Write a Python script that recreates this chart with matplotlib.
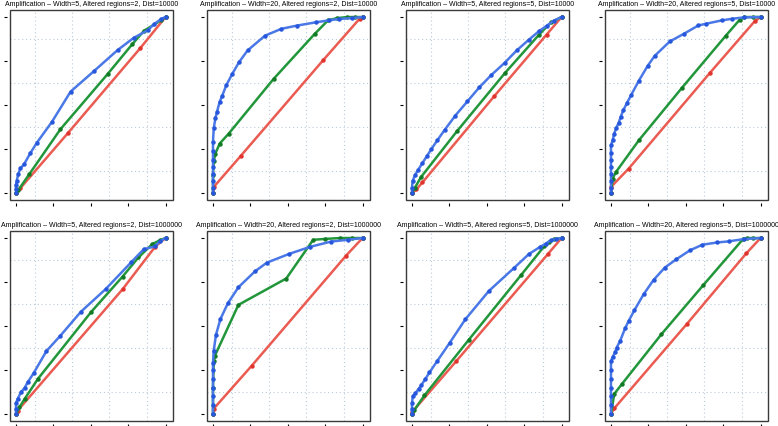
import matplotlib
matplotlib.use("Agg")
import matplotlib.pyplot as plt
from matplotlib.patches import Rectangle

plt.rcParams["font.family"] = ["Liberation Sans", "DejaVu Sans"]

titles = [
    "Amplification \u2013 Width=5, Altered regions=2, Dist=10000",
    "Amplification \u2013 Width=20, Altered regions=2, Dist=10000",
    "Amplification \u2013 Width=5, Altered regions=5, Dist=10000",
    "Amplification \u2013 Width=20, Altered regions=5, Dist=10000",
    "Amplification \u2013 Width=5, Altered regions=2, Dist=1000000",
    "Amplification \u2013 Width=20, Altered regions=2, Dist=1000000",
    "Amplification \u2013 Width=5, Altered regions=5, Dist=1000000",
    "Amplification \u2013 Width=20, Altered regions=5, Dist=1000000",
]

# red curves (fpr, tpr)
red_x = [
    [0, 0.03, 0.35, 0.83, 1],
    [0, 0.005, 0.186, 0.735, 0.98, 1],
    [0, 0.03, 0.07, 0.55, 0.9, 1],
    [0, 0.0, 0.119, 0.663, 0.96, 1],
    [0, 0.011, 0.713, 0.93, 1],
    [0, 0.005, 0.26, 0.89, 1],
    [0, 0.0, 0.297, 0.91, 1],
    [0, 0.022, 0.51, 0.906, 1],
]
red_y = [
    [0, 0.028, 0.343, 0.822, 1],
    [0, 0.034, 0.211, 0.753, 0.99, 1],
    [0, 0.02, 0.06, 0.55, 0.9, 1],
    [0, 0.034, 0.139, 0.684, 0.975, 1],
    [0, 0.019, 0.709, 0.95, 1],
    [0, 0.03, 0.275, 0.9, 1],
    [0, 0.01, 0.301, 0.91, 1],
    [0, 0.032, 0.514, 0.914, 1],
]

# green curves
green_x = [
    [0, 0.016, 0.09, 0.297, 0.613, 0.777, 0.856, 0.973, 1],
    [0, 0.0, 0.005, 0.016, 0.045, 0.106, 0.405, 0.679, 0.769, 0.83, 0.898, 0.95, 1],
    [0, 0.02, 0.06, 0.3, 0.62, 0.85, 0.93, 1],
    [0, 0.011, 0.034, 0.187, 0.472, 0.769, 0.861, 0.892, 0.95, 1],
    [0, 0.023, 0.057, 0.147, 0.502, 0.713, 0.819, 0.912, 0.962, 1],
    [0, 0.0, 0.005, 0.012, 0.17, 0.49, 0.67, 0.75, 0.85, 0.93, 1],
    [0, 0.016, 0.083, 0.381, 0.73, 0.883, 0.917, 0.95, 1],
    [0, 0.022, 0.074, 0.337, 0.618, 0.883, 0.91, 0.95, 1],
]
green_y = [
    [0, 0.017, 0.108, 0.362, 0.676, 0.845, 0.922, 0.983, 1],
    [0, 0.1, 0.18, 0.224, 0.281, 0.338, 0.648, 0.903, 0.981, 0.994, 1.0, 1.0, 1],
    [0, 0.03, 0.09, 0.35, 0.68, 0.9, 0.97, 1],
    [0, 0.082, 0.12, 0.3, 0.595, 0.895, 0.985, 1.0, 1.0, 1],
    [0, 0.038, 0.084, 0.2, 0.579, 0.781, 0.89, 0.966, 0.987, 1],
    [0, 0.15, 0.3, 0.33, 0.62, 0.77, 0.99, 0.995, 1.0, 1.0, 1],
    [0, 0.023, 0.105, 0.423, 0.79, 0.952, 0.977, 0.994, 1],
    [0, 0.114, 0.171, 0.453, 0.733, 0.994, 1.0, 1.0, 1],
]

# blue curves
blue_x = [
    [0, 0.0, 0.0, 0.005, 0.016, 0.03, 0.054, 0.095, 0.14, 0.241, 0.365, 0.522, 0.68,
     0.788, 0.883, 0.924, 0.973, 1],
    [0, 0.0, 0.0, 0.0, 0.0, 0.0, 0.0, 0.0, 0.005, 0.016, 0.027, 0.045, 0.061, 0.09,
     0.129, 0.174, 0.231, 0.348, 0.457, 0.559, 0.688, 0.774, 0.842, 0.932, 1],
    [0, 0.0, 0.005, 0.02, 0.04, 0.07, 0.1, 0.13, 0.17, 0.22, 0.29, 0.37, 0.45, 0.53,
     0.62, 0.7, 0.78, 0.85, 0.9, 0.95, 1],
    [0, 0.0, 0.0, 0.0, 0.0, 0.0, 0.0, 0.0, 0.011, 0.022, 0.034, 0.052, 0.065, 0.083,
     0.106, 0.135, 0.187, 0.245, 0.292, 0.393, 0.488, 0.584, 0.636, 0.742, 0.809,
     0.888, 1],
    [0, 0.0, 0.0, 0.011, 0.034, 0.057, 0.079, 0.118, 0.204, 0.294, 0.434, 0.6, 0.769,
     0.855, 0.928, 0.962, 1],
    [0, 0.0, 0.0, 0.0, 0.0, 0.0, 0.0, 0.005, 0.02, 0.05, 0.1, 0.17, 0.28, 0.36, 0.51,
     0.65, 0.79, 0.9, 1],
    [0, 0.0, 0.0, 0.005, 0.023, 0.045, 0.061, 0.09, 0.117, 0.169, 0.252, 0.356, 0.514,
     0.685, 0.782, 0.856, 0.894, 0.928, 0.962, 1],
    [0, 0.0, 0.0, 0.0, 0.0, 0.0, 0.0, 0.011, 0.029, 0.038, 0.061, 0.094, 0.119, 0.157,
     0.218, 0.285, 0.36, 0.438, 0.528, 0.611, 0.712, 0.787, 0.888, 1],
]
blue_y = [
    [0, 0.02, 0.045, 0.07, 0.11, 0.14, 0.163, 0.225, 0.286, 0.405, 0.576, 0.693, 0.8125,
     0.882, 0.926, 0.96, 0.99, 1],
    [0, 0.03, 0.07, 0.11, 0.15, 0.19, 0.24, 0.29, 0.367, 0.424, 0.462, 0.519, 0.551,
     0.614, 0.677, 0.743, 0.81, 0.894, 0.933, 0.951, 0.97, 0.981, 0.989, 0.994, 1],
    [0, 0.03, 0.07, 0.1, 0.13, 0.17, 0.21, 0.25, 0.3, 0.36, 0.44, 0.52, 0.6, 0.67,
     0.74, 0.81, 0.87, 0.92, 0.95, 0.98, 1],
    [0, 0.03, 0.07, 0.11, 0.15, 0.19, 0.23, 0.27, 0.3, 0.338, 0.367, 0.4, 0.433, 0.471,
     0.51, 0.557, 0.639, 0.722, 0.779, 0.861, 0.905, 0.952, 0.962, 0.981, 0.99,
     0.998, 1],
    [0, 0.03, 0.06, 0.086, 0.124, 0.147, 0.181, 0.232, 0.358, 0.442, 0.581, 0.71, 0.861,
     0.937, 0.952, 0.981, 1],
    [0, 0.05, 0.1, 0.15, 0.2, 0.25, 0.29, 0.36, 0.45, 0.54, 0.63, 0.72, 0.81, 0.86,
     0.91, 0.95, 0.98, 0.99, 1],
    [0, 0.03, 0.06, 0.1, 0.118, 0.143, 0.162, 0.2, 0.236, 0.301, 0.404, 0.537, 0.699,
     0.832, 0.909, 0.949, 0.968, 0.987, 0.994, 1],
    [0, 0.05, 0.1, 0.15, 0.2, 0.25, 0.3, 0.324, 0.352, 0.377, 0.415, 0.486, 0.53, 0.59,
     0.68, 0.762, 0.832, 0.88, 0.93, 0.962, 0.975, 0.981, 0.994, 1],
]

W, H = 778, 426
fig = plt.figure(figsize=(W / 100, H / 100), dpi=100)

lefts = [10, 207, 406, 605]
tops = [10, 231]
aw, ah = 163, 190

grid_pos = [0.125, 0.375, 0.625, 0.875]
ticks = [0, 0.25, 0.5, 0.75, 1.0]

for i in range(8):
    r, c = divmod(i, 4)
    ax = fig.add_axes([lefts[c] / W, (H - tops[r] - ah) / H, aw / W, ah / H])
    ax.set_xlim(-0.04, 1.05)
    ax.set_ylim(-0.04, 1.04)

    for g in grid_pos:
        ax.axvline(g, color="#bccbd8", lw=0.8, ls=(0, (1, 2.5)), zorder=0)
        ax.axhline(g, color="#bccbd8", lw=0.8, ls=(0, (1, 2.5)), zorder=0)

    ax.plot(red_x[i], red_y[i], color="#ea5b52", lw=1.8, marker="o", ms=2.2,
            mfc="#e0352e", mec="#e0352e", zorder=2)
    ax.plot(green_x[i], green_y[i], color="#22963a", lw=1.8, marker="o", ms=2.2,
            mfc="#137a25", mec="#137a25", zorder=3)
    ax.plot(blue_x[i], blue_y[i], color="#4a78e6", lw=1.8, marker="o", ms=2.2,
            mfc="#2657dc", mec="#2657dc", zorder=4)

    ax.set_xticks(ticks)
    ax.set_yticks(ticks)
    ax.set_xticklabels([])
    ax.set_yticklabels([])
    ax.tick_params(length=2.5, width=0.8, color="black", direction="out")
    for side in ["top", "right"]:
        ax.spines[side].set_visible(False)
    for side in ["left", "bottom"]:
        ax.spines[side].set_position(("outward", 2.5))
        ax.spines[side].set_color("none")
    ax.add_patch(Rectangle((0, 0), 1, 1, transform=ax.transAxes, fill=False,
                           ec="#3a3a3a", lw=1.0, clip_on=False, zorder=5))

    ax.set_title(titles[i], fontsize=5.0, pad=3)

fig.savefig("out.png", dpi=100)
